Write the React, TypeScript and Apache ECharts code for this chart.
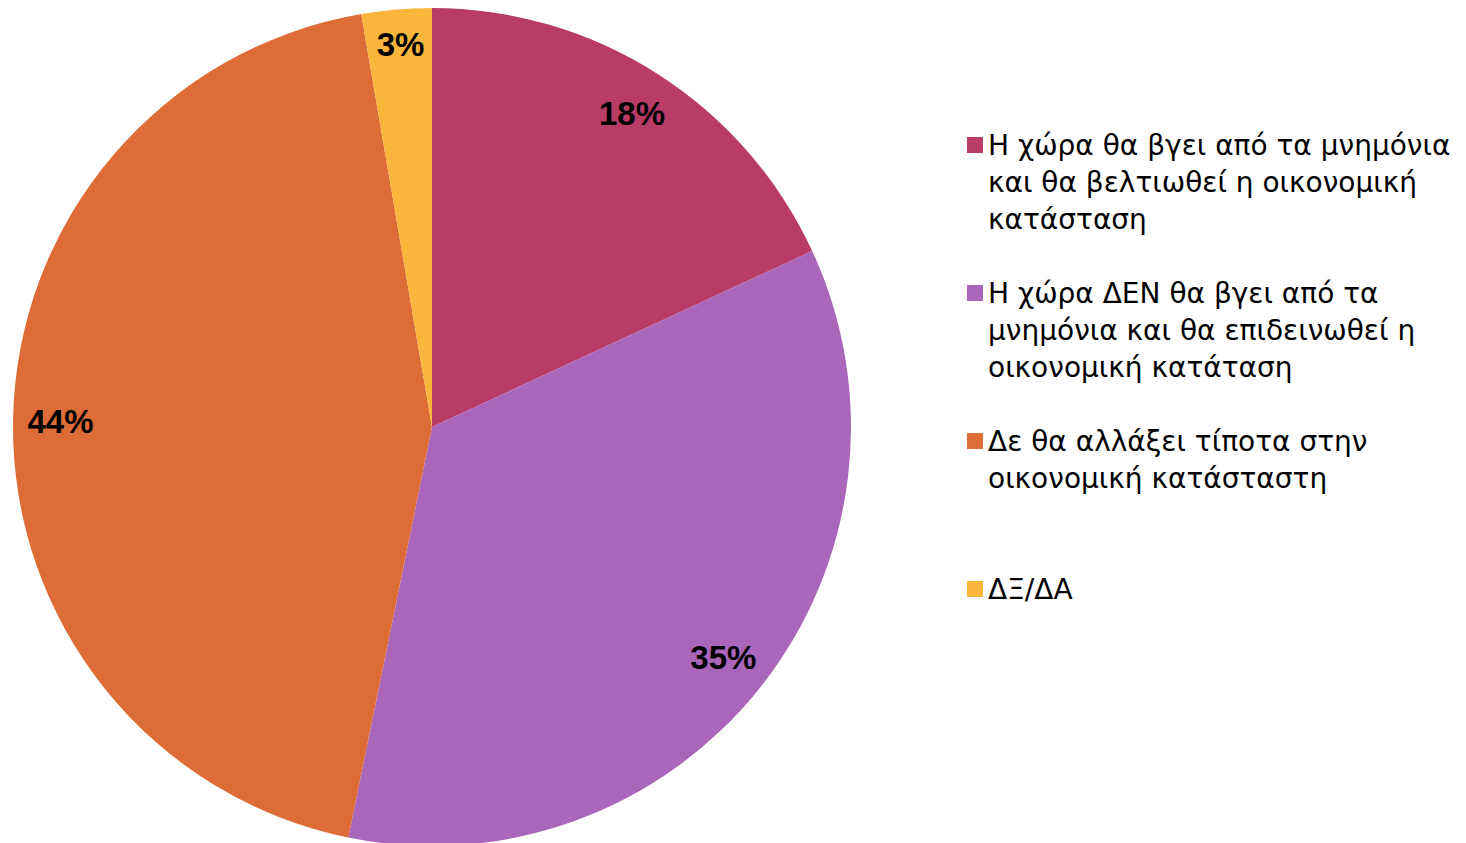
import React, { useEffect, useRef } from "react";
import * as echarts from "echarts";

const categories = [
  "Η χώρα θα βγει από τα μνημόνια\nκαι θα βελτιωθεί η οικονομική\nκατάσταση",
  "Η χώρα ΔΕΝ θα βγει από τα\nμνημόνια και θα επιδεινωθεί η\nοικονομική κατάταση",
  "Δε θα αλλάξει τίποτα στην\nοικονομική κατάσταστη",
  "ΔΞ/ΔΑ",
];
const values = [18.1, 35.1, 44.1, 2.7];
const labels = ["18%", "35%", "44%", "3%"];
const colors = ["#B93C66", "#AA66BB", "#DE6C37", "#F9B53C"];

// pad every legend entry to 5 lines so that its first line sits on the marker
const padLegend = (s: string) => {
  const lines = s.split("\n");
  while (lines.length < 3) lines.push(" ");
  return [" ", " ", ...lines].join("\n");
};

export default function App() {
  const ref = useRef<HTMLDivElement>(null);
  useEffect(() => {
    if (!ref.current) return;
    const chart = echarts.init(ref.current, undefined, { renderer: "svg" });
    const data = categories.map((name, i) => ({
      name,
      value: values[i],
      itemStyle: { color: colors[i] },
    }));
    chart.setOption({
      animation: false,
      backgroundColor: "#ffffff",
      legend: {
        orient: "vertical",
        left: 967,
        top: 52.5,
        padding: 0,
        itemWidth: 16,
        itemHeight: 16,
        itemGap: -37,
        icon: "rect",
        selectedMode: false,
        formatter: (name: string) => padLegend(name),
        textStyle: {
          fontFamily: "DejaVu Sans",
          fontSize: 28,
          lineHeight: 37,
          color: "#000000",
        },
        data: categories,
      },
      series: [
        {
          type: "pie",
          center: [432, 427],
          radius: [0, 419],
          startAngle: 90,
          clockwise: true,
          silent: true,
          label: { show: false },
          labelLine: { show: false },
          itemStyle: { borderWidth: 0 },
          data,
        },
        {
          type: "pie",
          center: [432, 427],
          radius: [318, 419],
          startAngle: 90,
          clockwise: true,
          silent: true,
          legendHoverLink: false,
          itemStyle: { color: "rgba(0,0,0,0)", borderWidth: 0 },
          label: {
            show: true,
            position: "inside",
            formatter: (p: any) => labels[p.dataIndex],
            fontFamily: "Liberation Sans",
            fontWeight: "bold",
            fontSize: 33,
            color: "#000000",
          },
          labelLine: { show: false },
          data: categories.map((name, i) => ({
            name: "lbl" + i,
            value: values[i],
            label: i === 3 ? { offset: [0, -12] } : undefined,
          })),
        },
      ],
    });
    return () => chart.dispose();
  }, []);
  return (
    <div
      ref={ref}
      style={{ position: "fixed", left: 0, top: 0, width: 1466, height: 843 }}
    />
  );
}
